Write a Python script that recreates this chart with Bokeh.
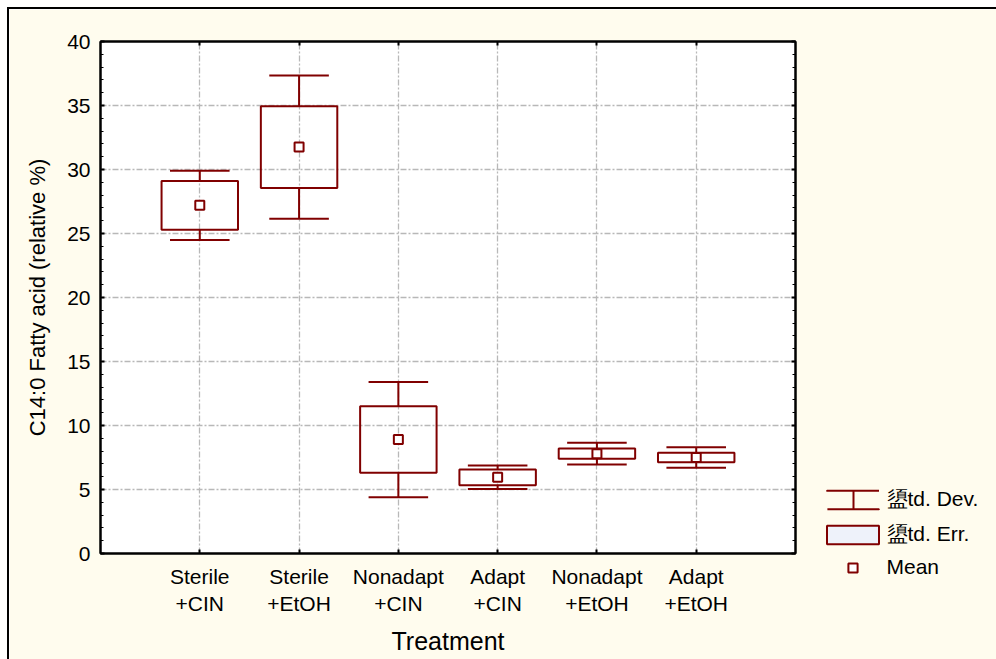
from bokeh.plotting import figure
from bokeh.models import (Range1d, FixedTicker, SingleIntervalTicker, LinearAxis,
                          Legend, LegendItem, ColumnDataSource)
from bokeh.embed import file_html
from bokeh.resources import INLINE

# ---- data ----
categories = ["Sterile\n+CIN", "Sterile\n+EtOH", "Nonadapt\n+CIN",
              "Adapt\n+CIN", "Nonadapt\n+EtOH", "Adapt\n+EtOH"]
means = [27.2, 31.75, 8.9, 5.95, 7.8, 7.5]
std_err = [1.9, 3.2, 2.6, 0.62, 0.4, 0.38]
std_dev = [2.7, 5.6, 4.5, 0.92, 0.85, 0.8]
y_ticks_interval = 5
legend_labels = ["盨td. Dev.", "盨td. Err.", "Mean"]

# ---- derived ----
xs = list(range(1, len(categories) + 1))
src = ColumnDataSource(dict(
    x=xs, mean=means,
    se_lo=[m - s for m, s in zip(means, std_err)],
    se_hi=[m + s for m, s in zip(means, std_err)],
    sd_lo=[m - s for m, s in zip(means, std_dev)],
    sd_hi=[m + s for m, s in zip(means, std_dev)],
    cap_l=[x - 0.3 for x in xs],
    cap_r=[x + 0.3 for x in xs],
))

RED = "#800000"
CREAM = "#fffcee"
FONT = "Liberation Sans"

p = figure(width=802, height=652, output_backend="svg", toolbar_location=None,
           x_range=Range1d(0, 7), y_range=Range1d(0, 40),
           min_border_left=91, min_border_top=32, min_border_bottom=108,
           min_border_right=16)
p.styles = {"margin-left": "7px", "margin-top": "7px",
            "border-top": "2px solid #000", "border-left": "2px solid #000"}
p.background_fill_color = "white"
p.border_fill_color = CREAM
p.outline_line_color = "black"
p.outline_line_width = 2

# grid
p.xgrid.ticker = FixedTicker(ticks=xs)
p.ygrid.ticker = SingleIntervalTicker(interval=y_ticks_interval)
for g in (p.xgrid, p.ygrid):
    g.grid_line_color = "#b8b8b8"
    g.grid_line_dash = "6 2 2 2"
    g.grid_line_width = 1.3

# axes
xa = p.xaxis[0]
xa.ticker = FixedTicker(ticks=xs)
xa.major_label_overrides = {x: c for x, c in zip(xs, categories)}
ya = p.yaxis[0]
ya.ticker = SingleIntervalTicker(interval=y_ticks_interval, num_minor_ticks=5)

for ax in (xa, ya):
    ax.axis_line_color = "black"
    ax.axis_line_width = 2
    ax.major_tick_in = 4
    ax.major_tick_out = 0
    ax.minor_tick_in = 3
    ax.minor_tick_out = 0
    ax.major_tick_line_color = "black"
    ax.minor_tick_line_color = "black"
    ax.major_tick_line_width = 2
    ax.major_label_text_font = FONT
    ax.major_label_text_font_size = "21px"
    ax.major_label_text_color = "black"
    ax.axis_label_text_font = FONT
    ax.axis_label_text_font_style = "normal"
    ax.axis_label_text_color = "black"
xa.minor_tick_line_color = None
xa.axis_label = "Treatment"
xa.axis_label_text_font_size = "25px"
xa.major_label_standoff = 11
xa.axis_label_standoff = 9
ya.axis_label = "C14:0 Fatty acid (relative %)"
ya.axis_label_text_font_size = "22px"
ya.major_label_standoff = 10
ya.axis_label_standoff = 14

ra = LinearAxis(ticker=SingleIntervalTicker(interval=y_ticks_interval, num_minor_ticks=5))
ta = LinearAxis(ticker=FixedTicker(ticks=xs))
for ax in (ra, ta):
    ax.axis_line_color = "black"
    ax.axis_line_width = 2
    ax.major_tick_in = 4
    ax.major_tick_out = 0
    ax.minor_tick_in = 3
    ax.minor_tick_out = 0
    ax.major_tick_line_width = 2
    ax.major_label_text_font_size = "0px"
    ax.major_label_text_color = None
ta.minor_tick_line_color = None
p.add_layout(ra, "right")
p.add_layout(ta, "above")

# whiskers (std dev)
glyph_style = dict(line_color=RED, line_width=2)
p.segment(x0="x", y0="se_hi", x1="x", y1="sd_hi", source=src, **glyph_style)
p.segment(x0="x", y0="se_lo", x1="x", y1="sd_lo", source=src, **glyph_style)
p.segment(x0="cap_l", y0="sd_hi", x1="cap_r", y1="sd_hi", source=src, **glyph_style)
p.segment(x0="cap_l", y0="sd_lo", x1="cap_r", y1="sd_lo", source=src, **glyph_style)
# boxes (std err)
p.vbar(x="x", width=0.77, top="se_hi", bottom="se_lo", source=src,
       fill_color="white", fill_alpha=0, **glyph_style)
# means
p.scatter(x="x", y="mean", source=src, marker="square", size=9,
          fill_color="white", **glyph_style)

# ---- legend panel: a separate figure placed to the right of the plot ----
leg = figure(width=199, height=652, output_backend="svg", toolbar_location=None,
             x_range=Range1d(100, 101), y_range=Range1d(100, 101),
             x_axis_type=None, y_axis_type=None, min_border=0)
leg.styles = {"position": "absolute", "left": "797px", "top": "7px",
              "border-top": "2px solid #000"}
leg.background_fill_color = CREAM
leg.border_fill_color = CREAM
leg.outline_line_color = None
leg.grid.visible = False
# legend proxies share the chart's data (kept out of view by the ranges)
# std-dev symbol: caps drawn as top/bottom edges of a dashed box + a hatch stem
r_sd_caps = leg.vbar(x="x", width=0.6, top="sd_hi", bottom="sd_lo", source=src,
                     fill_color=None, line_color=RED, line_width=2,
                     line_dash="52 18")
r_sd_stem = leg.vbar(x="x", width=0.6, top="sd_hi", bottom="sd_lo", source=src,
                     fill_color=None, line_color=None, hatch_pattern="|",
                     hatch_scale=65, hatch_weight=2, hatch_color=RED)
r_se = leg.vbar(x="x", width=0.77, top="se_hi", bottom="se_lo", source=src,
                fill_color="#eef2fa", **glyph_style)
r_mean = leg.scatter(x="x", y="mean", source=src, marker="square", size=9,
                     fill_color="white", **glyph_style)

legend = Legend(items=[
    LegendItem(label=legend_labels[0], renderers=[r_sd_stem, r_sd_caps]),
    LegendItem(label=legend_labels[1], renderers=[r_se]),
    LegendItem(label=legend_labels[2], renderers=[r_mean]),
], location=(22.5, 82))
legend.glyph_width = 65
legend.glyph_height = 23
legend.label_height = 20
legend.spacing = 7
legend.padding = 0
legend.margin = 0
legend.label_standoff = 2
legend.border_line_color = None
legend.background_fill_alpha = 0
legend.label_text_font = FONT
legend.label_text_font_size = "21px"
legend.label_text_color = "black"
leg.add_layout(legend)

open("out.html", "w").write(file_html([p, leg], INLINE))
